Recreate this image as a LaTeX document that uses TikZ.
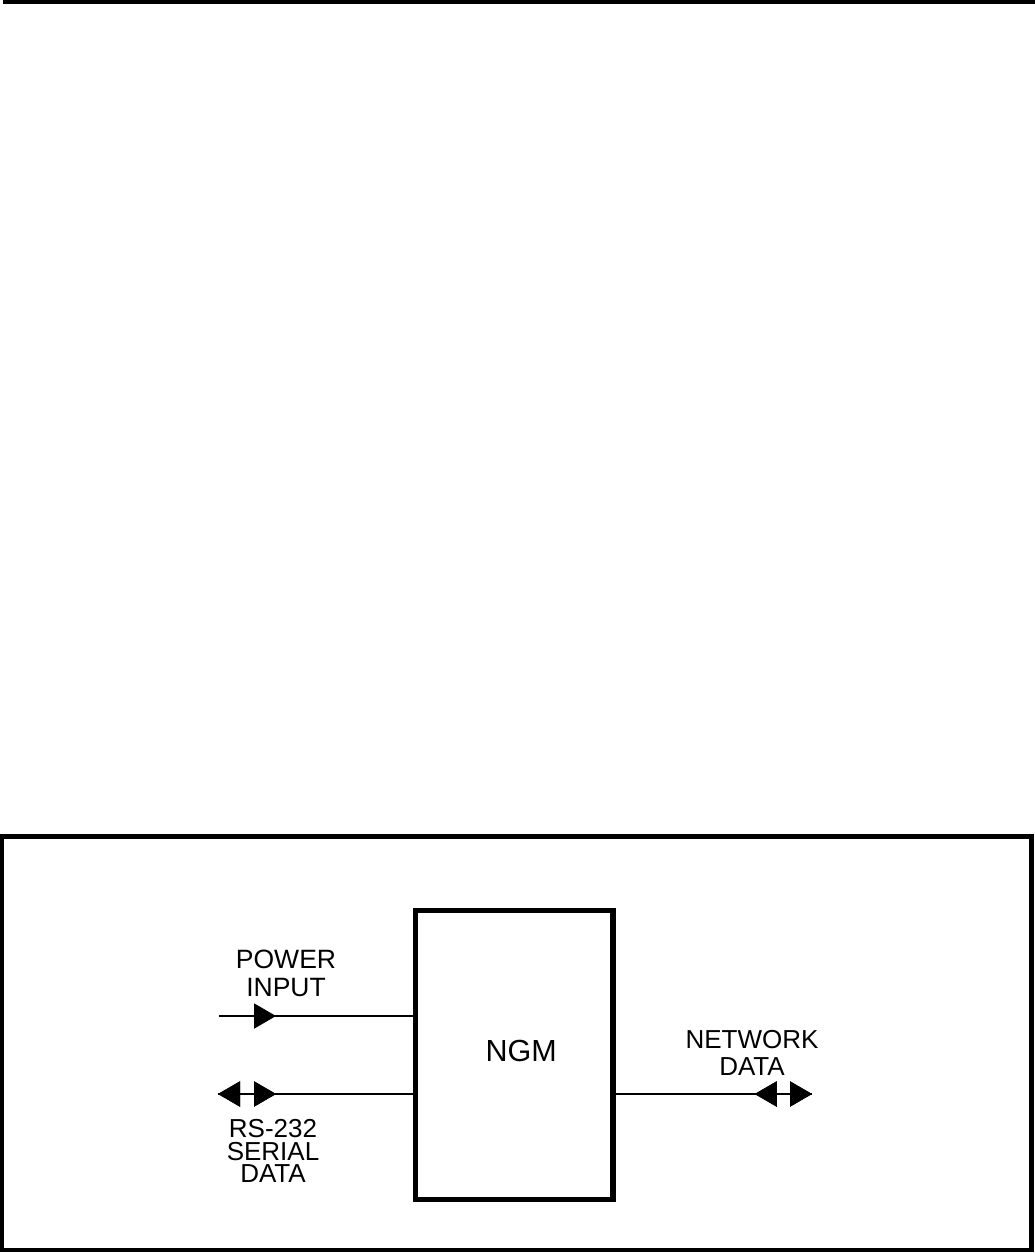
\documentclass[tikz,border=0pt]{standalone}
\usepackage{fontspec}
\setmainfont{Liberation Sans}
\usetikzlibrary{positioning,arrows.meta,decorations.markings}
\tikzset{
  unitbox/.style={draw, line width=5.5pt, minimum width=197.5pt, minimum height=289pt,
    inner sep=0pt},
  wire/.style={line width=2pt},
  sigtext/.style={align=center, inner sep=0pt},
  bigtip/.tip={Triangle[length=22pt,width=25pt]},
  fwdmark/.style={postaction={decorate}, decoration={markings,
    mark=at position #1 with {\arrow{bigtip}}}},
  revmark/.style={postaction={decorate}, decoration={markings,
    mark=at position #1 with {\arrowreversed{bigtip}}}}
}

\begin{document}
\begin{tikzpicture}[x=1pt, y=-1pt]
    \useasboundingbox (0,0) rectangle (1035,1253);
    \draw[line width=4pt] (3,2) -- (1035,2);
    \draw[line width=4.5pt] (1.5,836.5) rectangle (1031.5,1250);

    \node[unitbox] (ngm) at (514.25,1055) {};
    \node[sigtext, font=\fontsize{30.5}{32}\selectfont] (ngmname)
      at ([shift={(7,-4)}]ngm.center) {NGM};

    % signal labels
    \node[sigtext, font=\fontsize{26.5}{28}\selectfont] (pwrlbl) at (286,973.5) {POWER\\INPUT};
    \node[sigtext, font=\fontsize{26}{22.5}\selectfont] (rslbl) at (273,1151) {RS-232\\SERIAL\\DATA};
    \node[sigtext, font=\fontsize{26}{27}\selectfont] (netlbl) at (752,1052.5) {NETWORK\\DATA};

    \coordinate (pwrend) at (219,1016);
    \coordinate (rsend) at (218,1094);
    \coordinate (netend) at (812,1094);

    \draw[wire, fwdmark=57pt] (pwrend) -- (pwrend -| ngm.west);
    \draw[wire, revmark=0pt, fwdmark=58pt] (rsend) -- (rsend -| ngm.west);
    \draw[wire, revmark=139pt, fwdmark=1] (netend -| ngm.east) -- (netend);
  \end{tikzpicture}
\end{document}
